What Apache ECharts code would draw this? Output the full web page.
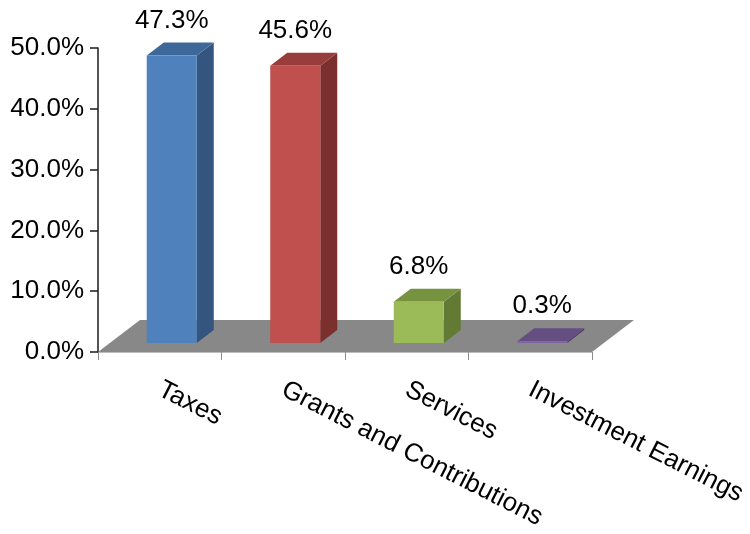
<!DOCTYPE html>
<html>
<head>
<meta charset="utf-8">
<script src="https://cdn.jsdelivr.net/npm/echarts@6/dist/echarts.min.js"></script>
<style>
  html, body { margin: 0; padding: 0; background: #ffffff; }
  #chart { width: 750px; height: 534px; }
</style>
</head>
<body>
<div id="chart"></div>
<script>
// Revenue sources, share of total (%)
const categories = ['Taxes', 'Grants and Contributions', 'Services', 'Investment Earnings'];
const shares = [47.3, 45.6, 6.8, 0.3];

// Value axis range
const axisMin = 0;
const axisMax = 50;
const axisStep = 10;

// Face colours per bar: front, top, side
const frontColors = ['#4F81BD', '#C0504D', '#9BBB59', '#8064A2'];
const topColors = ['#3E6899', '#983D3B', '#78933F', '#654E82'];
const sideColors = ['#33557F', '#7C302E', '#637A34', '#503D68'];

const FONT = '"Liberation Sans", Arial, Helvetica, sans-serif';

// 3D projection offsets (pixels)
const FLOOR_DX = 42, FLOOR_DY = -32;   // full floor depth
const FRONT_DX = 12, FRONT_DY = -9;    // bar front plane inside the floor
const BAR_DX = 17, BAR_DY = -13;       // bar depth
const BAR_RATIO = 0.405;               // bar width vs. category band

function renderFloor(params, api) {
  const cs = params.coordSys;
  const yb = cs.y + cs.height;
  return {
    type: 'polygon',
    shape: {
      points: [
        [cs.x, yb],
        [cs.x + cs.width, yb],
        [cs.x + cs.width + FLOOR_DX, yb + FLOOR_DY],
        [cs.x + FLOOR_DX, yb + FLOOR_DY]
      ]
    },
    style: { fill: '#888888' },
    silent: true
  };
}

function renderBar(params, api) {
  const i = api.value(0);
  const v = api.value(1);
  const base = api.coord([i, 0]);
  const top = api.coord([i, v]);
  const band = api.size([1, 0])[0];
  const w = band * BAR_RATIO;
  const cx = base[0] + FRONT_DX;
  const x0 = cx - w / 2;
  const x1 = cx + w / 2;
  const yb = base[1] + FRONT_DY;
  const yt = top[1] + FRONT_DY;
  const idx = params.dataIndex;
  return {
    type: 'group',
    children: [
      {
        type: 'polygon',
        shape: { points: [[x1, yb], [x1 + BAR_DX, yb + BAR_DY], [x1 + BAR_DX, yt + BAR_DY], [x1, yt]] },
        style: { fill: sideColors[idx] }
      },
      {
        type: 'polygon',
        shape: { points: [[x0, yt], [x1, yt], [x1 + BAR_DX, yt + BAR_DY], [x0 + BAR_DX, yt + BAR_DY]] },
        style: { fill: topColors[idx] }
      },
      {
        type: 'rect',
        shape: { x: x0, y: yt, width: w, height: yb - yt },
        style: { fill: frontColors[idx] }
      },
      {
        type: 'text',
        x: cx,
        y: yt - 35,
        style: {
          text: v.toFixed(1) + '%',
          fill: '#000000',
          font: '26px ' + FONT,
          textAlign: 'center',
          textVerticalAlign: 'middle'
        }
      }
    ]
  };
}

const chart = echarts.init(document.getElementById('chart'), null, { renderer: 'canvas' });

chart.setOption({
  backgroundColor: '#ffffff',
  animation: false,
  grid: {
    left: 98,
    right: 158,
    top: 48,
    bottom: 182,
    containLabel: false,
    outerBoundsMode: 'none'
  },
  xAxis: {
    type: 'category',
    data: categories,
    boundaryGap: true,
    axisLine: { show: true, lineStyle: { color: '#bdbdbd', width: 1 } },
    axisTick: { show: true, alignWithLabel: false, length: 8, lineStyle: { color: '#8c8c8c' } },
    axisLabel: {
      interval: 0,
      rotate: -27,
      margin: 36,
      color: '#000000',
      fontSize: 26,
      fontFamily: FONT
    },
    splitLine: { show: false }
  },
  yAxis: {
    type: 'value',
    min: axisMin,
    max: axisMax,
    interval: axisStep,
    axisLine: { show: true, lineStyle: { color: '#1a1a1a', width: 1.5 } },
    axisTick: { show: true, inside: false, length: 8, lineStyle: { color: '#1a1a1a', width: 1.5 } },
    axisLabel: {
      margin: 14,
      color: '#000000',
      fontSize: 26,
      fontFamily: FONT,
      padding: [0, 0, 8, 0],
      formatter: function (val) { return val.toFixed(1) + '%'; }
    },
    splitLine: { show: false }
  },
  series: [
    {
      type: 'custom',
      name: 'floor',
      renderItem: renderFloor,
      data: [[0, 0]],
      z: 1,
      silent: true
    },
    {
      type: 'custom',
      name: 'Share',
      renderItem: renderBar,
      encode: { x: 0, y: 1 },
      data: shares.map(function (v, i) { return [i, v]; }),
      z: 3
    }
  ]
});
</script>
</body>
</html>
